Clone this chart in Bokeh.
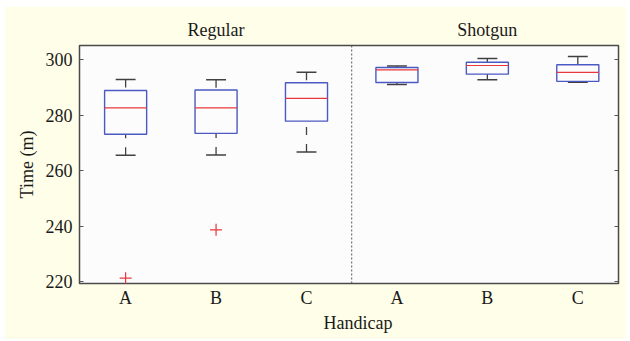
from bokeh.plotting import figure
from bokeh.models import FixedTicker, LinearAxis, Span, Range1d, ColumnDataSource, Spacer
from bokeh.layouts import row, column
from bokeh.embed import file_html
from bokeh.resources import INLINE

# ---- data ----
groups = ["Regular", "Regular", "Regular", "Shotgun", "Shotgun", "Shotgun"]
handicaps = ["A", "B", "C", "A", "B", "C"]
positions = [1, 2, 3, 4, 5, 6]
upper_whisker = [292.8, 292.7, 295.4, 297.6, 300.3, 301.0]
q3 = [288.8, 289.0, 291.6, 297.1, 299.0, 298.1]
median = [282.6, 282.6, 286.0, 296.2, 297.8, 295.3]
q1 = [273.1, 273.4, 277.8, 291.7, 294.7, 292.1]
lower_whisker = [265.5, 265.6, 266.7, 291.0, 292.7, 291.8]
outlier_pos = [1, 2]
outlier_val = [221.3, 238.7]
group_names = ["Regular", "Shotgun"]
group_centers = [2, 5]
y_ticks = [220, 240, 260, 280, 300]
x_title = "Handicap"
x_title_pos = 3.57

BOX_W = 0.465
CAP_W = 0.22
FONT = "Liberation Serif"
FS = "18px"
TXT = "#1a1a1a"
BLUE = "#4a5ac2"
RED = "#e8383c"
WHISK = "#404040"

src = ColumnDataSource(dict(
    x=positions,
    xl=[v - BOX_W / 2 for v in positions],
    xr=[v + BOX_W / 2 for v in positions],
    cl=[v - CAP_W / 2 for v in positions],
    cr=[v + CAP_W / 2 for v in positions],
    uw=upper_whisker, q3=q3, med=median, q1=q1, lw=lower_whisker,
))

p = figure(width=622, height=333,
           x_range=Range1d(0.49, 6.45), y_range=Range1d(219.4, 305.0),
           output_backend="svg", toolbar_location=None,
           min_border_left=75, min_border_right=8, min_border_top=39, min_border_bottom=56,
           background_fill_color="#fcfcfc", border_fill_color="#fffee8",
           outline_line_color="#4a4a4a", outline_line_width=1.5)
p.grid.visible = False


def style_labels(ax, standoff):
    ax.major_label_standoff = standoff
    ax.major_label_text_font = FONT
    ax.major_label_text_font_size = FS
    ax.major_label_text_color = TXT


# bottom axis: handicap letters
xa = p.xaxis[0]
xa.ticker = FixedTicker(ticks=positions)
xa.major_label_overrides = {pos: lab for pos, lab in zip(positions, handicaps)}
xa.major_tick_line_color = None
xa.minor_tick_line_color = None
xa.axis_line_color = None
style_labels(xa, -2)

# second bottom axis: x title placed like the reference
xt = LinearAxis(ticker=FixedTicker(ticks=[x_title_pos]),
                major_label_overrides={x_title_pos: x_title})
xt.major_tick_line_color = None
xt.minor_tick_line_color = None
xt.axis_line_color = None
style_labels(xt, -4)
p.add_layout(xt, "below")

# left axis
ya = p.yaxis[0]
ya.ticker = FixedTicker(ticks=y_ticks)
ya.major_tick_in = 4
ya.major_tick_out = 0
ya.major_tick_line_color = "#555555"
ya.minor_tick_line_color = None
ya.axis_line_color = None
style_labels(ya, 7)
ya.axis_label = "Time (m)"
ya.axis_label_text_font = FONT
ya.axis_label_text_font_size = FS
ya.axis_label_text_font_style = "normal"
ya.axis_label_text_color = TXT
ya.axis_label_standoff = 6

# top axis: group names
ta = LinearAxis(ticker=FixedTicker(ticks=group_centers),
                major_label_overrides={c: n for c, n in zip(group_centers, group_names)})
ta.major_tick_line_color = None
ta.minor_tick_line_color = None
ta.axis_line_color = None
style_labels(ta, 0)
p.add_layout(ta, "above")

# right axis: inward ticks only
ra = LinearAxis(ticker=FixedTicker(ticks=y_ticks))
ra.major_tick_in = 4
ra.major_tick_out = 0
ra.major_tick_line_color = "#555555"
ra.minor_tick_line_color = None
ra.axis_line_color = None
ra.major_label_overrides = {t: "" for t in y_ticks}
ra.major_label_text_font_size = "1px"
ra.major_label_standoff = 0
p.add_layout(ra, "right")

# divider between groups
p.add_layout(Span(location=3.5, dimension="height", line_color="#555555",
                  line_dash="2 2", line_width=1))

# whiskers (dashed, drawn from cap toward box)
p.segment(x0="x", y0="uw", x1="x", y1="q3", source=src, line_color=WHISK,
          line_width=1.3, line_dash="8 9")
p.segment(x0="x", y0="lw", x1="x", y1="q1", source=src, line_color=WHISK,
          line_width=1.3, line_dash="8 9")
# caps
p.segment(x0="cl", y0="uw", x1="cr", y1="uw", source=src, line_color=WHISK, line_width=1.5)
p.segment(x0="cl", y0="lw", x1="cr", y1="lw", source=src, line_color=WHISK, line_width=1.5)
# boxes
p.vbar(x="x", top="q3", bottom="q1", width=BOX_W, source=src,
       fill_color=None, line_color=BLUE, line_width=1.4)
# medians
p.segment(x0="xl", y0="med", x1="xr", y1="med", source=src, line_color=RED, line_width=1.2)
# outliers
p.scatter(x=outlier_pos, y=outlier_val, marker="cross", size=12,
          line_color=RED, line_width=1.2)

layout = row(Spacer(width=4), column(Spacer(height=6), p))
open("out.html", "w").write(file_html(layout, INLINE))
